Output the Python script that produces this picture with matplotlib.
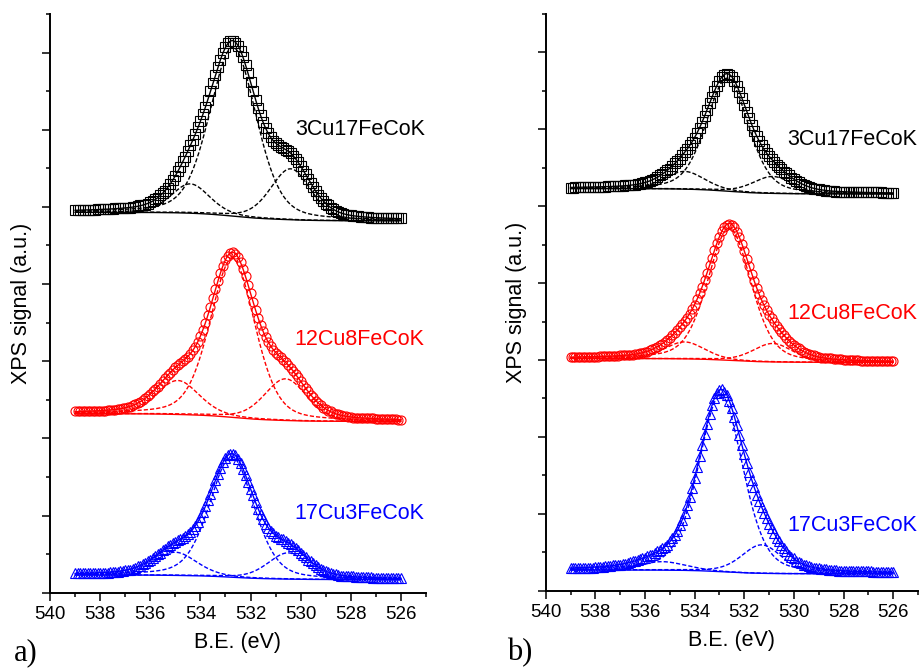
import numpy as np
import matplotlib
matplotlib.use("Agg")
import matplotlib.pyplot as plt
from matplotlib.ticker import MultipleLocator, NullFormatter

plt.rcParams['font.family'] = ['Liberation Sans', 'DejaVu Sans']

samples = ['3Cu17FeCoK', '12Cu8FeCoK', '17Cu3FeCoK']
colors = ['#000000', '#ff0000', '#0000ff']
markers = ['s', 'o', '^']

# O 1s spectra, 539.0 -> 526.0 eV in 0.1 eV steps, signal in units of 0.01 (offset per sample)
be = np.linspace(539.0, 526.0, 131)

a_3cu = [496, 496, 496, 496, 496, 496, 496, 496, 496, 497, 497, 497, 497, 497, 497, 497, 498, 498, 498, 498,
         499, 499, 499, 500, 500, 501, 502, 502, 503, 504, 506, 508, 510, 512, 515, 518, 521, 525, 530, 535,
         540, 546, 552, 559, 565, 572, 580, 587, 595, 603, 611, 620, 629, 639, 650, 660, 671, 681, 691, 699,
         707, 712, 715, 715, 713, 709, 702, 694, 684, 673, 662, 650, 639, 628, 619, 610, 602, 596, 590, 586,
         583, 580, 578, 576, 574, 572, 570, 566, 562, 558, 553, 547, 542, 536, 531, 526, 521, 516, 512, 508,
         504, 502, 499, 497, 495, 494, 492, 491, 490, 490, 489, 488, 488, 488, 487, 487, 487, 487, 486, 486,
         486, 486, 486, 486, 485, 485, 485, 485, 485, 485, 485]
a_12cu = [235, 235, 235, 235, 235, 235, 235, 235, 236, 236, 236, 236, 236, 237, 237, 237, 237, 238, 238, 239,
          240, 241, 241, 243, 244, 246, 247, 250, 252, 255, 257, 261, 264, 267, 271, 275, 278, 282, 285, 289,
          292, 295, 298, 300, 303, 306, 310, 314, 319, 325, 333, 341, 350, 360, 370, 382, 393, 404, 414, 424,
          431, 437, 440, 441, 439, 435, 428, 420, 410, 399, 388, 377, 366, 356, 347, 339, 331, 325, 320, 315,
          311, 308, 305, 302, 299, 295, 291, 287, 283, 279, 274, 269, 265, 261, 256, 253, 249, 246, 243, 240,
          238, 236, 235, 233, 232, 231, 230, 229, 229, 228, 228, 227, 227, 227, 227, 226, 226, 226, 226, 226,
          225, 225, 225, 225, 225, 225, 225, 225, 225, 224, 224]
a_17cu = [25, 25, 25, 25, 25, 25, 25, 26, 26, 26, 26, 26, 26, 26, 27, 27, 27, 27, 28, 28,
          29, 30, 30, 31, 32, 34, 35, 37, 39, 41, 43, 45, 47, 50, 52, 55, 57, 60, 62, 64,
          66, 68, 69, 71, 73, 76, 79, 82, 87, 92, 98, 104, 112, 120, 128, 137, 146, 154, 162, 169,
          174, 178, 180, 180, 178, 173, 168, 160, 152, 144, 135, 126, 117, 109, 102, 95, 89, 84, 80, 77,
          74, 72, 70, 69, 67, 65, 63, 61, 58, 55, 52, 49, 46, 43, 41, 38, 36, 33, 31, 29,
          28, 27, 25, 24, 24, 23, 22, 22, 22, 21, 21, 21, 20, 20, 20, 20, 20, 20, 20, 19,
          19, 19, 19, 19, 19, 19, 19, 19, 19, 19, 19]

b_3cu = [524, 524, 525, 525, 525, 525, 525, 525, 525, 525, 525, 525, 525, 525, 525, 526, 526, 526, 526, 526,
         526, 526, 527, 527, 527, 528, 528, 529, 529, 530, 531, 532, 533, 534, 536, 538, 540, 542, 544, 547,
         549, 552, 556, 559, 562, 566, 570, 574, 579, 584, 589, 595, 602, 609, 617, 625, 634, 642, 650, 657,
         663, 668, 671, 672, 671, 668, 663, 657, 649, 641, 632, 623, 615, 606, 598, 591, 585, 579, 574, 569,
         565, 561, 558, 554, 551, 548, 545, 543, 540, 537, 535, 533, 531, 529, 528, 526, 525, 524, 523, 523,
         522, 521, 521, 520, 520, 520, 520, 519, 519, 519, 519, 519, 519, 518, 518, 518, 518, 518, 518, 518,
         518, 518, 518, 518, 518, 518, 517, 517, 517, 517, 517]
b_12cu = [304, 304, 304, 304, 304, 304, 304, 304, 304, 304, 304, 304, 305, 305, 305, 305, 305, 305, 305, 305,
          306, 306, 306, 306, 307, 307, 308, 308, 309, 309, 310, 311, 313, 314, 315, 317, 319, 321, 324, 326,
          329, 332, 335, 339, 343, 347, 351, 355, 360, 366, 372, 379, 387, 395, 404, 413, 423, 433, 443, 452,
          460, 468, 473, 476, 477, 476, 473, 467, 460, 451, 442, 432, 422, 412, 403, 394, 386, 378, 371, 365,
          359, 354, 349, 344, 340, 336, 332, 329, 325, 322, 319, 317, 315, 313, 311, 309, 308, 307, 306, 305,
          304, 303, 303, 302, 302, 302, 301, 301, 301, 301, 300, 300, 300, 300, 300, 300, 300, 299, 299, 299,
          299, 299, 299, 299, 299, 299, 299, 299, 299, 299, 299]
b_17cu = [29, 30, 30, 30, 30, 30, 30, 30, 30, 30, 31, 31, 31, 31, 32, 32, 32, 33, 33, 33,
          34, 35, 35, 36, 37, 38, 39, 40, 41, 42, 43, 45, 46, 47, 49, 51, 53, 55, 57, 60,
          64, 68, 72, 78, 85, 92, 101, 111, 122, 134, 147, 161, 175, 189, 204, 217, 230, 241, 250, 257,
          261, 262, 259, 254, 247, 237, 226, 215, 202, 190, 178, 166, 155, 144, 135, 125, 117, 109, 101, 94,
          87, 81, 75, 69, 64, 59, 55, 51, 47, 44, 42, 39, 37, 36, 34, 33, 32, 31, 30, 29,
          29, 28, 28, 28, 27, 27, 27, 27, 26, 26, 26, 26, 26, 25, 25, 25, 25, 25, 25, 25,
          25, 25, 24, 24, 24, 24, 24, 24, 24, 24, 24]

a_spectra = [a_3cu, a_12cu, a_17cu]
b_spectra = [b_3cu, b_12cu, b_17cu]

# Shirley baseline end values (539 eV, 526 eV)
a_baseline = [(4.93, 4.82), (2.32, 2.22), (0.23, 0.17)]
b_baseline = [(5.23, 5.16), (3.02, 2.97), (0.27, 0.22)]

# fitted components: (centre eV, height, fwhm eV)
a_peaks = [
    [(532.70, 2.19, 2.2), (534.40, 0.38, 1.8), (530.40, 0.66, 1.9)],
    [(532.72, 2.06, 2.1), (534.90, 0.44, 2.0), (530.60, 0.54, 2.0)],
    [(532.75, 1.56, 2.1), (535.00, 0.30, 2.0), (530.50, 0.34, 1.9)],
]
b_peaks = [
    [(532.68, 1.47, 2.0), (534.40, 0.23, 1.9), (530.85, 0.22, 1.9)],
    [(532.60, 1.72, 2.05), (534.40, 0.22, 1.9), (530.85, 0.24, 1.9)],
    [(532.95, 2.30, 2.1), (535.30, 0.11, 2.2), (531.30, 0.37, 1.9)],
]

label_y = {'a': [6.0, 3.28, 1.03], 'b': [5.87, 3.61, 0.85]}

e_fit = np.linspace(539.0, 526.0, 521)


def pseudo_voigt(e, centre, height, fwhm, eta=0.3):
    x = (e - centre) / fwhm
    return height * ((1 - eta) * np.exp(-4 * np.log(2) * x ** 2) + eta / (1 + 4 * x ** 2))


def fit_curves(peaks, ends):
    comps = [pseudo_voigt(e_fit, *p) for p in peaks]
    total = np.sum(comps, axis=0)
    # Shirley background: step follows the integrated peak area from the low BE side
    cum = np.cumsum(total[::-1])[::-1]
    frac = (cum - cum[-1]) / (cum[0] - cum[-1])
    base = ends[1] + (ends[0] - ends[1]) * frac
    return base, comps, base + total


fig = plt.figure(figsize=(9.19, 6.69), dpi=100)
ax_a = fig.add_axes([50 / 919, 1 - 592.7 / 669, 376 / 919, 578.7 / 669])
ax_b = fig.add_axes([545.7 / 919, 1 - 590.7 / 669, 372.3 / 919, 576.7 / 669])

panels = [(ax_a, 'a', a_spectra, a_peaks, a_baseline),
          (ax_b, 'b', b_spectra, b_peaks, b_baseline)]

for ax, key, spectra, peaks_all, ends_all in panels:
    for i in range(3):
        signal = np.array(spectra[i]) / 100.0
        ax.plot(be, signal, ls='none', marker=markers[i], ms=6.5, mfc='none',
                mec=colors[i], mew=0.8)

        base, comps, env = fit_curves(peaks_all[i], ends_all[i])
        for c in comps:
            ax.plot(e_fit, base + c, color=colors[i], lw=1.0, ls=(0, (3, 1.5)))
        ax.plot(e_fit, base, color=colors[i], lw=1.0)
        ax.plot(e_fit, env, color=colors[i], lw=1.0)

        ax.text(525.05, label_y[key][i], samples[i], color=colors[i], fontsize=15.5,
                ha='right', va='center')

    ax.set_xlim(540, 525)
    ax.set_ylim(0, 7.5)
    ax.spines['top'].set_visible(False)
    ax.spines['right'].set_visible(False)
    ax.spines['left'].set_linewidth(1.4)
    ax.spines['bottom'].set_linewidth(1.4)
    ax.xaxis.set_major_locator(MultipleLocator(2))
    ax.xaxis.set_minor_locator(MultipleLocator(1))
    ax.yaxis.set_major_locator(MultipleLocator(1))
    ax.yaxis.set_minor_locator(MultipleLocator(0.5))
    ax.yaxis.set_major_formatter(NullFormatter())
    ax.tick_params(which='major', direction='out', length=5.8, width=1.1, labelsize=13.5, pad=4)
    ax.tick_params(which='minor', direction='out', length=2.9, width=1.1)
    ax.set_xlabel('B.E. (eV)', fontsize=15.5, labelpad=6)
    ax.set_ylabel('XPS signal (a.u.)', fontsize=15.5)
    ax.yaxis.set_label_coords(-0.049, 0.5)

fig.text(14 / 919, 0.002, 'a)', fontsize=22, family='Liberation Serif', va='bottom')
fig.text(507 / 919, 0.002, 'b)', fontsize=22, family='Liberation Serif', va='bottom')

fig.savefig('out.png', dpi=100)
